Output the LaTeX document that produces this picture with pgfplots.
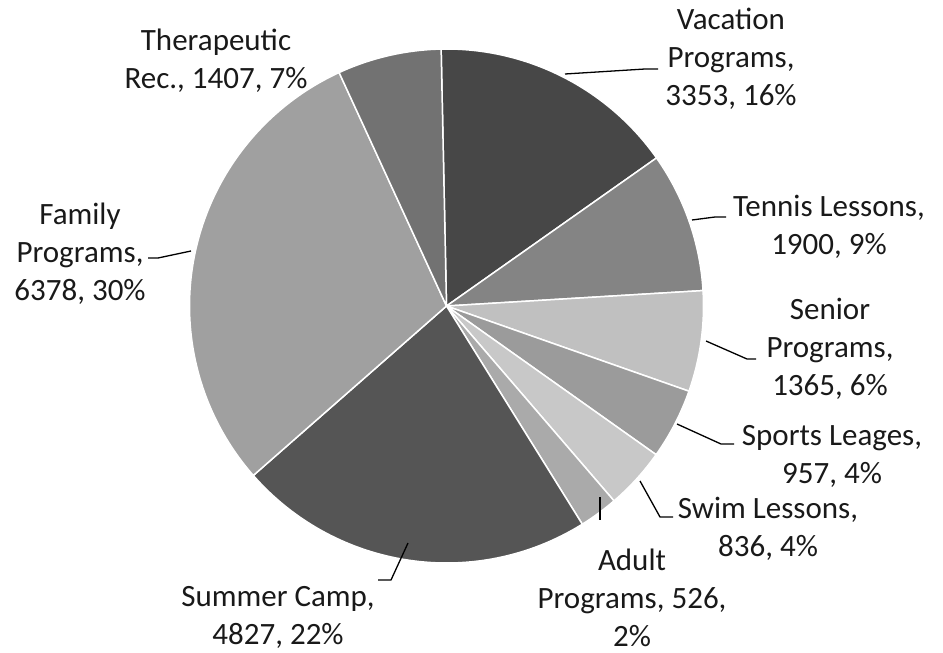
\documentclass[border=0pt]{standalone}
\usepackage{fontspec}
\setmainfont{Carlito}
\usepackage{pgfplots}
\usepackage{pgfplotstable}
\pgfplotsset{compat=1.18}

\pgfplotstableread[col sep=comma]{
name,value
Vacation Programs,3353
Tennis Lessons,1900
Senior Programs,1365
Sports Leages,957
Swim Lessons,836
Adult Programs,526
Summer Camp,4827
Family Programs,6378
Therapeutic Rec.,1407
}\piedata

\definecolor{pc0}{HTML}{474747}
\definecolor{pc1}{HTML}{848484}
\definecolor{pc2}{HTML}{C0C0C0}
\definecolor{pc3}{HTML}{9B9B9B}
\definecolor{pc4}{HTML}{C8C8C8}
\definecolor{pc5}{HTML}{AAAAAA}
\definecolor{pc6}{HTML}{555555}
\definecolor{pc7}{HTML}{A0A0A0}
\definecolor{pc8}{HTML}{727272}

\begin{document}
\begin{tikzpicture}
% totals (values scaled by 1/100 to stay in pgfmath range)
\gdef\pietotal{0}
\foreach \i in {0,...,8}{%
  \pgfplotstablegetelem{\i}{value}\of\piedata
  \pgfmathsetmacro\tmp{\pietotal+\pgfplotsretval/100}%
  \xdef\pietotal{\tmp}%
}
\gdef\piecum{0}
\foreach \i in {0,...,8}{%
  \pgfplotstablegetelem{\i}{value}\of\piedata
  \pgfmathsetmacro\sa{91.2-\piecum/\pietotal*360}%
  \pgfmathsetmacro\nc{\piecum+\pgfplotsretval/100}%
  \pgfmathsetmacro\ea{91.2-\nc/\pietotal*360}%
  \expandafter\xdef\csname ps\i\endcsname{\sa}%
  \expandafter\xdef\csname pe\i\endcsname{\ea}%
  \xdef\piecum{\nc}%
}
\begin{axis}[
  scale only axis, width=943bp, height=653bp,
  xmin=0, xmax=943, ymin=0, ymax=653, y dir=reverse,
  hide axis, clip=false,
]
\path (axis cs:0,0) rectangle (axis cs:943,653);
\pgfplotsinvokeforeach{0,...,8}{
  \fill[pc#1, draw=white, line width=1.5bp, line join=round]
    (axis cs:446.5,306) -- ++(\csname ps#1\endcsname:257bp)
    arc[start angle=\csname ps#1\endcsname, end angle=\csname pe#1\endcsname, radius=257bp] -- cycle;
}
% leader lines
\begin{scope}[black, line width=1.3bp]
\draw (axis cs:565,74) -- (axis cs:645,69) -- (axis cs:658,69);
\draw (axis cs:692,220) -- (axis cs:715,217) -- (axis cs:726,217);
\draw (axis cs:706,341) -- (axis cs:747,359) -- (axis cs:756,359);
\draw (axis cs:677,424) -- (axis cs:721,444) -- (axis cs:734,444);
\draw (axis cs:640,481) -- (axis cs:660,517) -- (axis cs:673,517);
\draw (axis cs:600,497) -- (axis cs:600,520);
\draw (axis cs:408,543) -- (axis cs:391,580) -- (axis cs:378,580);
\draw (axis cs:191,251) -- (axis cs:158,258) -- (axis cs:148,258);
\end{scope}
% labels
\begin{scope}[every node/.style={align=center, text=black!90, inner sep=0pt,
   font=\fontsize{31bp}{38bp}\selectfont}]
\node at (axis cs:731,59) {Vacation\\Programs,\\3353, 16\%};
\node at (axis cs:829,227) {Tennis Lessons,\\1900, 9\%};
\node at (axis cs:830,349) {Senior\\Programs,\\1365, 6\%};
\node at (axis cs:832,456) {Sports Leages,\\957, 4\%};
\node at (axis cs:768,529) {Swim Lessons,\\836, 4\%};
\node at (axis cs:632,598) {Adult\\Programs, 526,\\2\%};
\node at (axis cs:278,617) {Summer Camp,\\4827, 22\%};
\node at (axis cs:80,254) {Family\\Programs,\\6378, 30\%};
\node at (axis cs:216,61) {Therapeutic\\Rec., 1407, 7\%};
\end{scope}
\end{axis}
\end{tikzpicture}
\end{document}
